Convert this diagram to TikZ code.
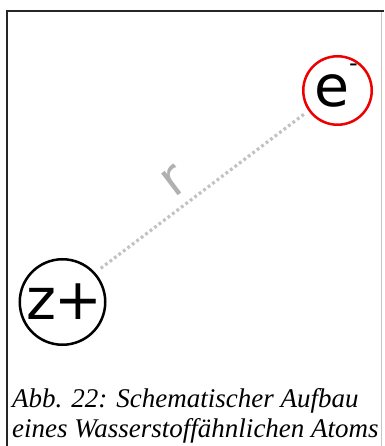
\documentclass[tikz,border=0pt]{standalone}
\usepackage{fontspec}
\setmainfont{Liberation Serif}
\newfontfamily\djv{DejaVu Sans}
\definecolor{dotgray}{HTML}{C2C2C2}
\definecolor{rgray}{HTML}{B0B0B0}
\definecolor{framegray}{HTML}{C4C4C4}
\definecolor{ered}{HTML}{EE0000}
\begin{document}
\begin{tikzpicture}[x=1pt,y=-1pt,
  particle/.style={circle, draw, line width=2.5pt, inner sep=0pt, font=\djv\fontsize{57}{57}\selectfont},
  distline/.style={draw=dotgray, line width=3.2pt, dash pattern=on 2.8pt off 2.8pt},
  rlabel/.style={text=rgray, inner sep=0pt, font=\djv\fontsize{50}{50}\selectfont}]
\useasboundingbox (0,0) rectangle (384,446);
\fill[white] (0,0) rectangle (384,446);
% frame
\draw[framegray, line width=1pt] (381.5,12) -- (381.5,446);
\draw[black!85, line width=2.5pt] (7,446) -- (7,11) -- (384,11);
% particles
\node[particle, minimum size=85.5pt] (z) at (62.5,302) {\makebox[0pt]{\hspace*{3pt}z\kern-2pt+}};
\node[particle, draw=ered, minimum size=68.5pt] (e) at (337.5,90.5)
  {\makebox[0pt]{\hspace*{-3pt}e\smash{\raisebox{35pt}{\fontsize{24}{24}\selectfont -}}}};
% distance
\draw[distline, shorten <=7pt, shorten >=4pt] (z.42) -- (e.215.5);
\path (z.42) -- (e.215.5) node[rlabel, sloped, pos=0.44, above=11pt] (r) {r};
% caption
\node[anchor=north west, inner sep=0pt, align=left, font=\itshape\fontsize{27}{30}\selectfont] (cap) at (12,388.5)
  {Abb. 22: Schematischer Aufbau\\eines Wasserstoffähnlichen Atoms};
\end{tikzpicture}
\end{document}
